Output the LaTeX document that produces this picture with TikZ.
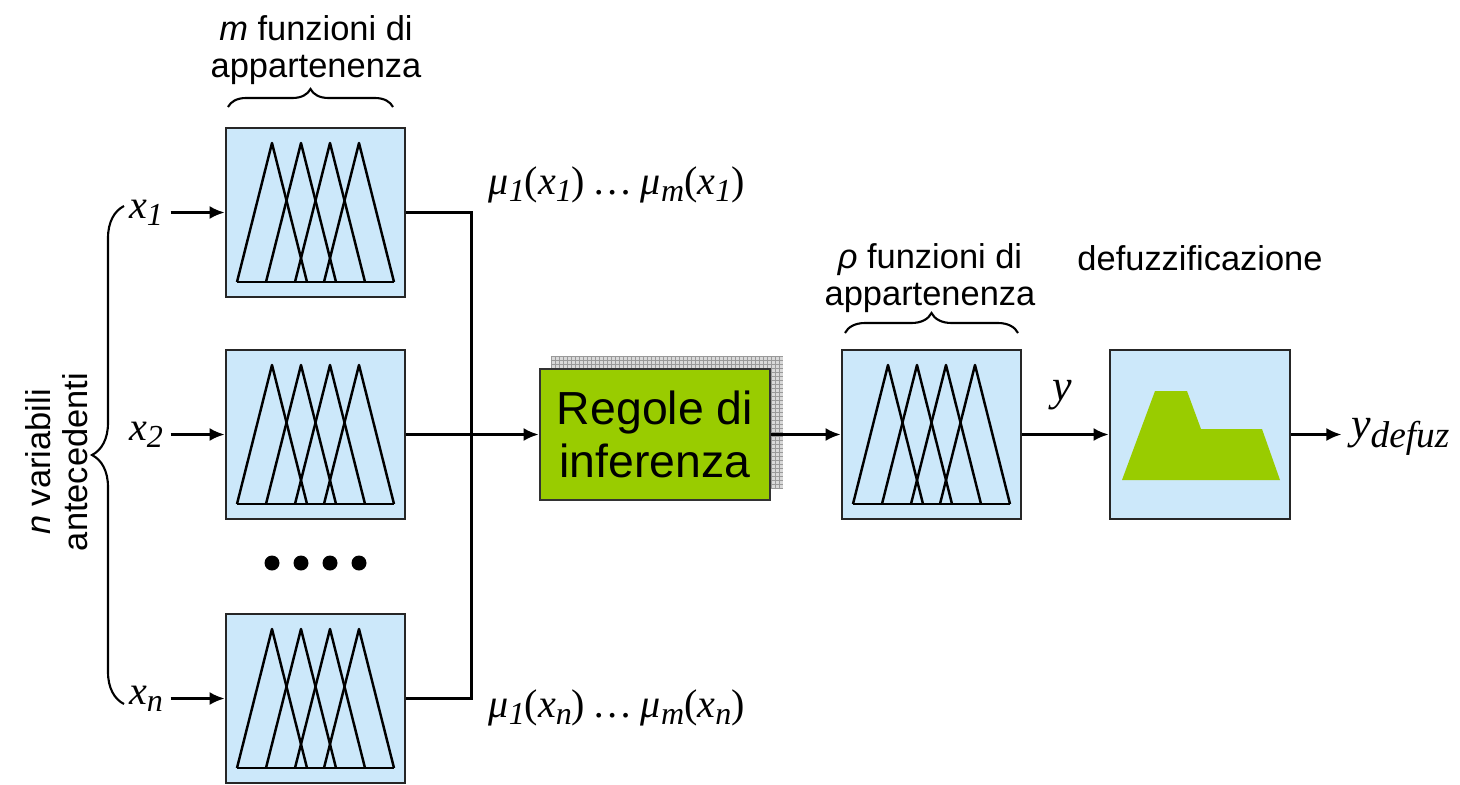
\documentclass[tikz,border=0pt]{standalone}
\usepackage{graphicx}
\usepackage{fontspec}
\setmainfont{Liberation Sans}
\newfontfamily\tnr{Liberation Serif}
\usetikzlibrary{arrows.meta, positioning, calc, backgrounds,
                decorations.pathreplacing}

\definecolor{azzurro}{RGB}{204,232,250}
\definecolor{verde}{RGB}{153,204,0}

\newcommand{\pedice}[1]{\raisebox{-0.4ex}{\scalebox{0.8}{#1}}}
\newcommand{\apri}{{\upshape(}}
\newcommand{\chiudi}{{\upshape)}}

\tikzset{
  linea/.style={line width=0.7pt, draw=black},
  freccia/.style={linea, -{Latex[length=1.5mm,width=1.3mm]}},
  graffa/.style={decorate, decoration={brace, amplitude=#1}, line width=0.6pt},
  mfbox/.style={draw=black!85, fill=azzurro, line width=0.8pt,
                minimum width=1.79cm, minimum height=1.69cm, inner sep=0pt},
  regolebox/.style={draw=black!80, fill=verde, line width=0.8pt,
                minimum width=2.30cm, minimum height=1.31cm, align=center,
                font=\fontsize{13.2}{15}\selectfont},
  etich/.style={font=\fontsize{9.8}{10.6}\selectfont, inner sep=1pt, align=center},
  matem/.style={font=\tnr\itshape\fontsize{11.4}{13}\selectfont, inner sep=0pt},
  triangoli/.pic={
    \draw[linea, line join=round] (-0.785,-0.695) -- (0.785,-0.695);
    \foreach \c in {-0.435,-0.145,0.145,0.435}
      \draw[linea, line join=round] (\c-0.35,-0.695) -- (\c,0.695) -- (\c+0.35,-0.695);
  },
}

\begin{document}
\begin{tikzpicture}
  \useasboundingbox (0,0) rectangle (14.6,7.84);

  \node[mfbox] (mf1) at (3.155,5.715) {};
  \node[mfbox] (mf2) at (3.155,3.495) {};
  \node[mfbox] (mfn) at (3.155,0.855) {};
  \foreach \b in {mf1,mf2,mfn}
    \pic at (\b) {triangoli};
  \foreach \c in {-0.435,-0.145,0.145,0.435}
    \fill ($(mf2.center)+(\c,-1.285)$) circle (0.075);

  \node[etich] (mtesto) at (3.16,7.34) {\textit{m} funzioni di\\appartenenza};
  \draw[graffa=0.18cm] (2.28,6.77) -- (3.93,6.77);

  \foreach \b/\i in {mf1/1, mf2/2, mfn/n} {
    \coordinate (in\i) at ($(\b.west)+(-0.54,0)$);
    \node[matem, left=0.07cm of in\i] (lx\i) {x\pedice{\i}};
    \draw[freccia] (in\i) -- (\b.west);
  }
  \draw[graffa=0.32cm] (1.24,0.80) -- (1.24,5.78);
  \node[etich, rotate=90] (nvar) at (0.57,3.22) {\textit{n} variabili\\antecedenti};

  \draw[linea] (mf1.east) -| ($(mfn.east)+(0.65,0)$) -- (mfn.east);
  \node[matem, anchor=west] (mu1) at (4.88,5.99)
       {μ\pedice{1}\apri x\pedice{1}\chiudi\ \ldots\ μ\pedice{m}\apri x\pedice{1}\chiudi};
  \node[matem, anchor=west] (mun) at (4.88,0.76)
       {μ\pedice{1}\apri x\pedice{n}\chiudi\ \ldots\ μ\pedice{m}\apri x\pedice{n}\chiudi};

  \node[regolebox] (regole) at (6.55,3.495) {Regole di\\inferenza};
  \begin{scope}[on background layer]
    \fill[gray!30] ($(regole.south west)+(0.12,0.12)$) rectangle ($(regole.north east)+(0.12,0.12)$);
    \draw[gray!80, line width=0.25pt, step=0.04]
         ($(regole.south west)+(0.12,0.12)$) grid ($(regole.north east)+(0.12,0.12)$);
  \end{scope}
  \draw[freccia] (mf2.east) -- (regole.west);

  \node[mfbox] (mfout) at (9.315,3.495) {};
  \pic at (mfout) {triangoli};
  \draw[freccia] (regole.east) -- (mfout.west);
  \node[etich] (ptesto) at (9.30,5.06) {\textit{ρ} funzioni di\\appartenenza};
  \draw[graffa=0.2cm] (8.45,4.51) -- (10.18,4.51);

  \node[mfbox, minimum width=1.80cm] (defuz) at (12.0,3.495) {};
  \begin{scope}[shift={(defuz.center)}]
    \fill[verde] (-0.78,-0.455) -- (-0.45,0.435) -- (-0.13,0.435) -- (0.01,0.055)
                 -- (0.62,0.055) -- (0.80,-0.455) -- cycle;
  \end{scope}
  \node[etich] (dtesto) at (12.0,5.26) {defuzzificazione};
  \draw[freccia] (mfout.east) -- (defuz.west);
  \node[matem, font=\tnr\itshape\fontsize{12.5}{14}\selectfont] (ylab) at (10.62,3.89) {y};

  \coordinate (uscita) at ($(defuz.east)+(0.50,0)$);
  \draw[freccia] (defuz.east) -- (uscita);
  \node[matem, font=\tnr\itshape\fontsize{12.5}{14}\selectfont, anchor=west] (ydef)
       at ($(uscita)+(0.09,-0.02)$) {y\raisebox{-0.45ex}{\scalebox{0.85}{defuz}}};
\end{tikzpicture}
\end{document}
